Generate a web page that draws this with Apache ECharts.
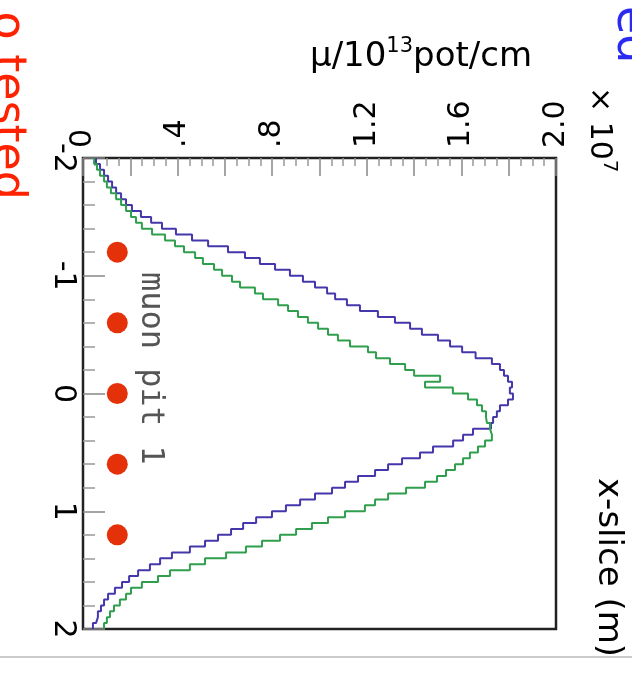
<!DOCTYPE html>
<html>
<head>
<meta charset="utf-8">
<script src="https://cdn.jsdelivr.net/npm/echarts@6/dist/echarts.min.js"></script>
<style>html,body{margin:0;padding:0;background:#fff;}#c{width:632px;height:673px;}</style>
</head>
<body>
<div id="c"></div>
<script>
// ---- data ----
const binLo = -2;
const binWidth = 0.05;
const blueValues = [0.055,0.072,0.089,0.106,0.123,0.14,0.161,0.182,0.207,0.245,
0.288,0.334,0.393,0.461,0.529,0.613,0.685,0.748,0.812,0.875,
0.93,0.981,1.032,1.066,1.116,1.171,1.247,1.319,1.383,1.433,
1.501,1.552,1.603,1.66,1.729,1.763,1.78,1.797,1.814,1.805,
1.818,1.797,1.763,1.75,1.734,1.725,1.649,1.607,1.565,1.48,
1.425,1.349,1.29,1.235,1.163,1.108,1.053,0.981,0.918,0.858,
0.799,0.732,0.677,0.626,0.571,0.516,0.452,0.376,0.326,0.283,
0.233,0.195,0.165,0.135,0.106,0.089,0.076,0.063,0.055,0.042];
const greenValues = [0.047,0.059,0.072,0.089,0.101,0.118,0.14,0.161,0.182,0.203,
0.224,0.249,0.292,0.347,0.389,0.427,0.474,0.507,0.554,0.588,
0.63,0.664,0.727,0.761,0.825,0.867,0.909,0.951,0.994,1.036,
1.078,1.129,1.205,1.239,1.298,1.362,1.40,1.51,1.446,1.564,
1.628,1.666,1.687,1.704,1.708,1.721,1.729,1.729,1.70,1.67,
1.636,1.607,1.573,1.535,1.497,1.446,1.366,1.29,1.235,1.192,
1.108,1.036,0.968,0.901,0.833,0.757,0.689,0.605,0.516,0.452,
0.368,0.317,0.249,0.203,0.182,0.156,0.131,0.114,0.101,0.089];
const dotSlice = [-1.2, -0.6, 0, 0.6, 1.2];
const dotMu = [0.145, 0.145, 0.145, 0.145, 0.145];
const muTickLabels = ['0', '.4', '.8', '1.2', '1.6', '2.0'];
const sliceTickLabels = ['-2', '-1', '0', '1', '2'];

// ---- build rotated step histograms (value horizontal, slice vertical) ----
function stepPath(vals) {
  const pts = [];
  vals.forEach((v, i) => {
    pts.push([v, binLo + i * binWidth]);
    pts.push([v, binLo + (i + 1) * binWidth]);
  });
  return pts;
}
const dots = dotSlice.map((s, i) => [dotMu[i], s]);

const FONT = 'DejaVu Sans';
const chart = echarts.init(document.getElementById('c'), null, {renderer: 'canvas'});
chart.setOption({
  animation: false,
  backgroundColor: '#fff',
  grid: {left: 83, top: 158, width: 473, height: 471, show: true,
         borderColor: '#222', borderWidth: 2.5, backgroundColor: '#fff'},
  xAxis: {
    type: 'value', position: 'top', min: 0, max: 2, interval: 0.2,
    axisLine: {show: false, onZero: false},
    splitLine: {show: false},
    axisTick: {inside: true, length: 18, lineStyle: {color: '#888', width: 1.5}},
    minorTick: {show: true, splitNumber: 4, length: 8, lineStyle: {color: '#999', width: 1.5}},
    axisLabel: {rotate: -90, margin: 10, fontFamily: FONT, fontSize: 30, color: '#000',
      formatter: (v, idx) => (idx % 2 === 0 ? muTickLabels[idx / 2] : '')}
  },
  yAxis: {
    type: 'value', inverse: true, min: -2, max: 2, interval: 1,
    axisLine: {show: false, onZero: false},
    splitLine: {show: false},
    axisTick: {inside: true, length: 22, lineStyle: {color: '#888', width: 1.5}},
    minorTick: {show: true, splitNumber: 5, length: 12, lineStyle: {color: '#999', width: 1.5}},
    axisLabel: {rotate: -90, margin: 5, fontFamily: FONT, fontSize: 30, color: '#000',
      formatter: (v, idx) => sliceTickLabels[idx]}
  },
  series: [
    {type: 'line', data: stepPath(blueValues), showSymbol: false, symbol: 'none',
     lineStyle: {color: '#4437ab', width: 2}, z: 3},
    {type: 'line', data: stepPath(greenValues), showSymbol: false, symbol: 'none',
     lineStyle: {color: '#2f9f4d', width: 2}, z: 4},
    {type: 'scatter', data: dots, symbol: 'circle', symbolSize: 21,
     itemStyle: {color: '#e5310a', opacity: 1}, z: 5}
  ],
  graphic: [
    {type: 'line', shape: {x1: 0, y1: 657, x2: 632, y2: 657},
     style: {stroke: '#bbb', lineWidth: 1.5}},
    {type: 'text', x: 310, y: 36,
     style: {text: '{a|μ/10}{s|13}{a|pot/cm}', align: 'left', verticalAlign: 'top',
             textAlign: 'left', textVerticalAlign: 'top',
             rich: {a: {fontFamily: FONT, fontSize: 34, lineHeight: 42, fill: '#000', color: '#000'},
                    s: {fontFamily: FONT, fontSize: 21, lineHeight: 21, verticalAlign: 'top', fill: '#000', color: '#000'}}}},
    {type: 'text', x: 599, y: 87, rotation: -Math.PI / 2,
     style: {text: '{a|× 10}{s|7}', align: 'left', verticalAlign: 'middle',
             textAlign: 'left', textVerticalAlign: 'middle',
             rich: {a: {fontFamily: FONT, fontSize: 30, lineHeight: 40, fill: '#000', color: '#000'},
                    s: {fontFamily: FONT, fontSize: 20, lineHeight: 20, verticalAlign: 'top', fill: '#000', color: '#000'}}}},
    {type: 'text', x: 608, y: 478, rotation: -Math.PI / 2,
     style: {text: 'x-slice (m)', font: '34px "DejaVu Sans"', fill: '#000',
             align: 'left', verticalAlign: 'middle', textAlign: 'left', textVerticalAlign: 'middle'}},
    {type: 'text', x: 150, y: 272, rotation: -Math.PI / 2,
     style: {text: 'muon pit 1', font: '32px "DejaVu Sans Mono"', fill: '#555',
             align: 'left', verticalAlign: 'middle', textAlign: 'left', textVerticalAlign: 'middle'}},
    {type: 'text', x: 6, y: 200, rotation: -Math.PI / 2,
     style: {text: 'o tested', font: '46px "DejaVu Sans"', fill: '#ff2200',
             align: 'right', verticalAlign: 'middle', textAlign: 'right', textVerticalAlign: 'middle'}},
    {type: 'text', x: 630, y: 6, rotation: -Math.PI / 2,
     style: {text: 'ed', font: '46px "DejaVu Sans"', fill: '#2a2af0',
             align: 'left', verticalAlign: 'middle', textAlign: 'left', textVerticalAlign: 'middle'}}
  ]
});
</script>
</body>
</html>
